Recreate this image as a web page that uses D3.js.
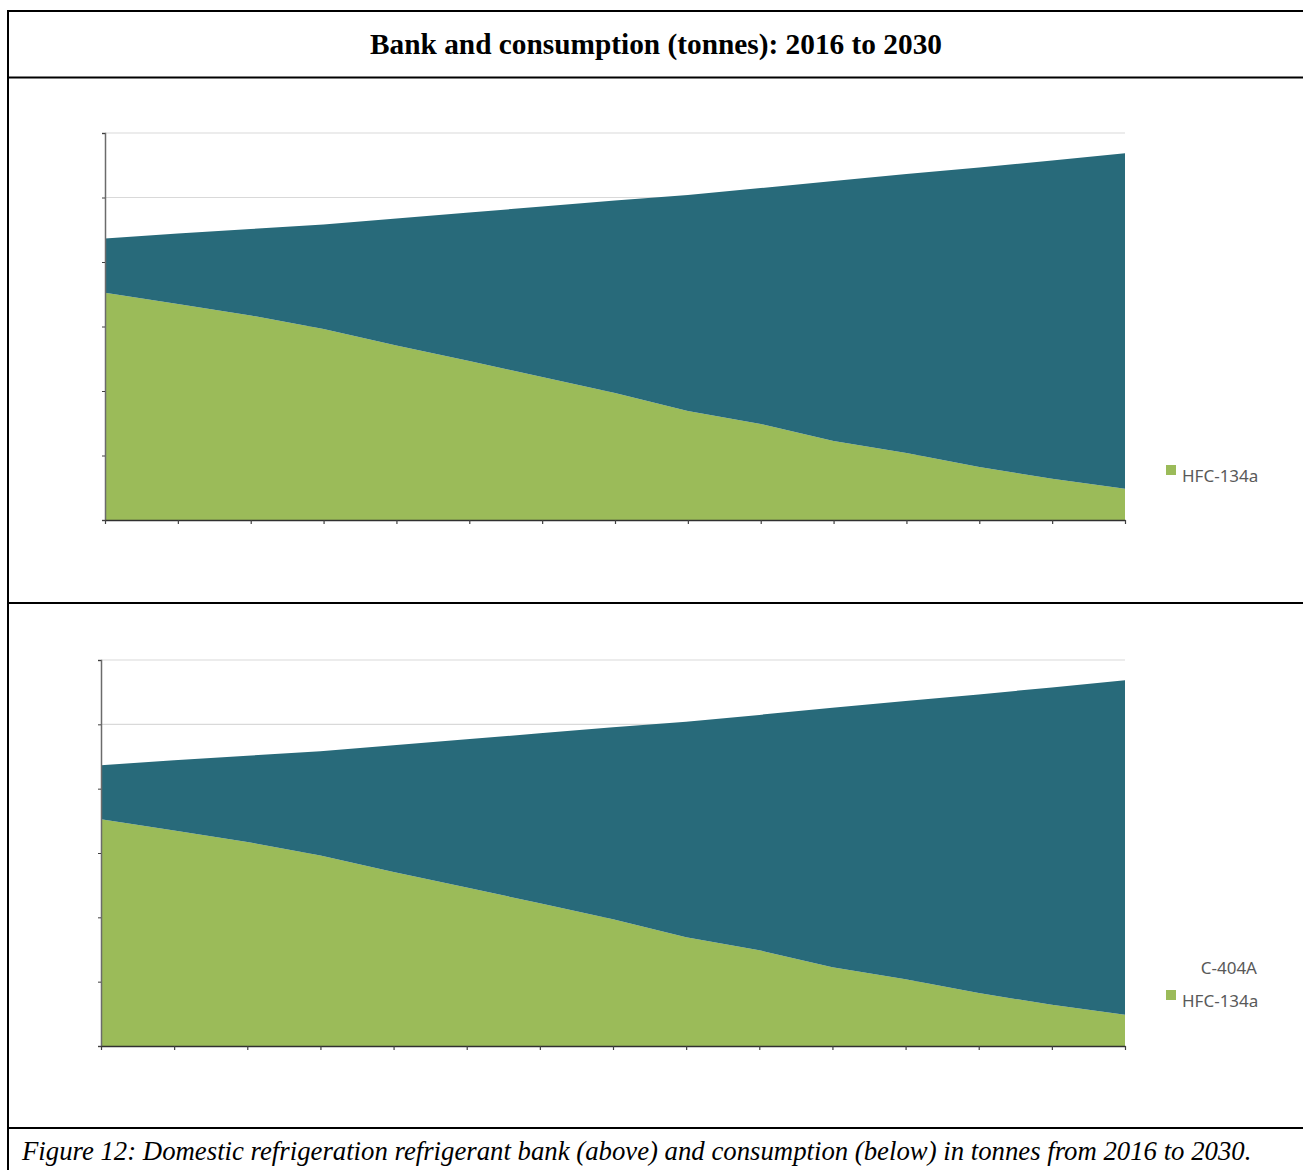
<!DOCTYPE html>
<html>
<head>
<meta charset="utf-8">
<script src="https://cdn.jsdelivr.net/npm/d3@7"></script>
<style>
  html, body { margin: 0; padding: 0; background: #fff; }
  svg { display: block; }
</style>
</head>
<body>
<svg id="fig" width="1303" height="1170"></svg>
<script>
// Years on the category axis
const years = [2016, 2017, 2018, 2019, 2020, 2021, 2022, 2023, 2024, 2025, 2026, 2027, 2028, 2029, 2030];

// Refrigerant bank (tonnes)
const bankHFC134a = [3524, 3349, 3171, 2961, 2705, 2465, 2217, 1969, 1690, 1488, 1225, 1039, 822, 640, 485];
const bankC404A   = [840, 1093, 1341, 1620, 1969, 2302, 2643, 2984, 3349, 3659, 4031, 4325, 4643, 4934, 5200];

// Refrigerant consumption (tonnes)
const consHFC134a = [3524, 3349, 3171, 2961, 2705, 2465, 2217, 1969, 1690, 1488, 1225, 1039, 822, 640, 485];
const consC404A   = [840, 1093, 1341, 1620, 1969, 2302, 2643, 2984, 3349, 3659, 4031, 4325, 4643, 4934, 5200];

// Value axis ticks (unlabelled)
const yTicks = [0, 1000, 2000, 3000, 4000, 5000, 6000];

const seriesNames = ["HFC-134a", "C-404A"];
const seriesColors = { "HFC-134a": "#9BBB59", "C-404A": "#286A7A" };

const svg = d3.select("#fig");

// Frame and dividers
const frame = svg.append("g").attr("stroke", "#000").attr("stroke-width", 2);
frame.append("line").attr("x1", 8).attr("x2", 1310).attr("y1", 11).attr("y2", 11);
frame.append("line").attr("x1", 8).attr("x2", 8).attr("y1", 10).attr("y2", 1175);
frame.append("line").attr("x1", 8).attr("x2", 1310).attr("y1", 77.5).attr("y2", 77.5);
frame.append("line").attr("x1", 8).attr("x2", 1310).attr("y1", 603).attr("y2", 603);
frame.append("line").attr("x1", 8).attr("x2", 1310).attr("y1", 1128).attr("y2", 1128);

// Scale a text's font size so that it spans the given width
function fitWidth(sel, width) {
  const base = +sel.attr("font-size");
  const w = sel.node().getComputedTextLength();
  if (w > 0) sel.attr("font-size", (base * width / w).toFixed(2));
}

const title = svg.append("text")
  .attr("x", 656).attr("y", 54)
  .attr("text-anchor", "middle")
  .attr("font-family", "'Liberation Serif', 'Times New Roman', serif")
  .attr("font-weight", "bold")
  .attr("font-size", 27)
  .text("Bank and consumption (tonnes): 2016 to 2030");
fitWidth(title, 572);

const caption = svg.append("text")
  .attr("x", 22).attr("y", 1160)
  .attr("font-family", "'Liberation Serif', 'Times New Roman', serif")
  .attr("font-style", "italic")
  .attr("font-size", 24)
  .text("Figure 12: Domestic refrigeration refrigerant bank (above) and consumption (below) in tonnes from 2016 to 2030.");
fitWidth(caption, 1230);

function drawPanel(box, h134a, c404a, legendItems) {
  const rows = years.map((yr, i) => ({ year: yr, "HFC-134a": h134a[i], "C-404A": c404a[i] }));
  const stacked = d3.stack().keys(seriesNames)(rows);

  const x = d3.scaleLinear().domain([years[0], years[years.length - 1]]).range([box.left, box.right]);
  const y = d3.scaleLinear().domain([yTicks[0], yTicks[yTicks.length - 1]]).range([box.bottom, box.top]);

  const g = svg.append("g");

  // gridlines
  g.append("g")
    .selectAll("line")
    .data(yTicks.slice(1))
    .join("line")
    .attr("x1", box.left).attr("x2", box.right)
    .attr("y1", d => y(d)).attr("y2", d => y(d))
    .attr("stroke", "#D9D9D9").attr("stroke-width", 1.2);

  const area = d3.area()
    .x(d => x(d.data.year))
    .y0(d => y(d[0]))
    .y1(d => y(d[1]));

  g.append("g")
    .selectAll("path")
    .data(stacked)
    .join("path")
    .attr("fill", d => seriesColors[d.key])
    .attr("d", area);

  // value axis
  const yAxis = d3.axisLeft(y).tickValues(yTicks).tickSize(3).tickFormat("");
  const ya = g.append("g").attr("transform", `translate(${box.left},0)`).call(yAxis);
  ya.select(".domain").attr("stroke", "#6b6b6b").attr("stroke-width", 1.5);
  ya.selectAll(".tick line").attr("stroke", "#404040");

  // category axis
  const xAxis = d3.axisBottom(x).tickValues(years).tickSize(4).tickSizeOuter(0).tickFormat("");
  const xa = g.append("g").attr("transform", `translate(0,${box.bottom})`).call(xAxis);
  xa.select(".domain").attr("stroke", "#303030").attr("stroke-width", 1.5);
  xa.selectAll(".tick line").attr("stroke", "#404040").attr("stroke-width", 1.2);

  // legend
  const lg = g.append("g").attr("font-family", "'Noto Sans', 'Open Sans', sans-serif").attr("font-size", 17).attr("fill", "#595959");
  legendItems.forEach(item => {
    if (item.swatch) {
      lg.append("rect")
        .attr("x", item.x - 16).attr("y", item.y - 17)
        .attr("width", 10).attr("height", 10)
        .attr("fill", seriesColors[item.name]);
      lg.append("text").attr("x", item.x).attr("y", item.y).text(item.name);
    } else {
      lg.append("text").attr("x", 1257).attr("y", item.y).attr("text-anchor", "end").text(item.name);
    }
  });
}

drawPanel({ left: 105, right: 1125, top: 133, bottom: 520 }, bankHFC134a, bankC404A,
  [{ name: "HFC-134a", x: 1182, y: 482, swatch: true }]);

drawPanel({ left: 101, right: 1125, top: 660, bottom: 1046 }, consHFC134a, consC404A,
  [{ name: "C-404A", x: 1202, y: 974, swatch: false },
   { name: "HFC-134a", x: 1182, y: 1007, swatch: true }]);
</script>
</body>
</html>
